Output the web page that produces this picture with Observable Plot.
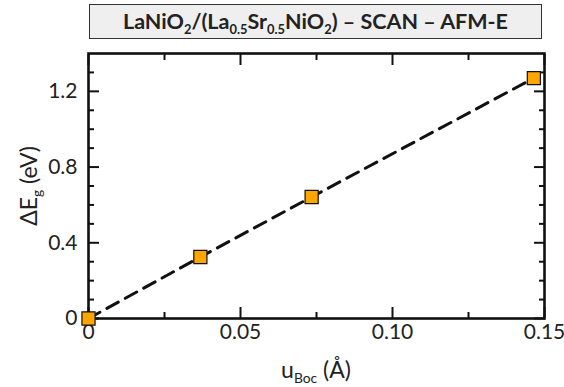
<!DOCTYPE html>
<html>
<head>
<meta charset="utf-8">
<script src="https://cdn.jsdelivr.net/npm/d3@7"></script>
<script src="https://cdn.jsdelivr.net/npm/@observablehq/plot@0.6"></script>
<style>
  body { margin: 0; background: #fff; }
  #wrap { position: relative; width: 564px; height: 387px; font-family: Lato, sans-serif; color: #222; }
  #wrap svg { position: absolute; left: 0; top: 0; }
  #title { position: absolute; left: 89px; top: 4px; width: 451px; height: 33px; border: 1.5px solid #333;
           background: #efefef; font-weight: bold; font-size: 21.5px; text-align: center; line-height: 32px; white-space: nowrap; }
  sub { font-size: 0.6em; vertical-align: -0.35em; line-height: 0; }
  #xlabel { position: absolute; left: 216px; width: 200px; top: 355px; text-align: center; font-size: 23px; }
  #ylabel { position: absolute; left: 28px; top: 186px; font-size: 23px; white-space: nowrap;
            transform: translate(-50%, -50%) rotate(-90deg); }
</style>
</head>
<body>
<div id="wrap"></div>
<script>
// data
const uBoc = [0, 0.0368, 0.0734, 0.1465];
const dEg  = [0, 0.325, 0.642, 1.27];
// tick values
const xMajor = [0, 0.05, 0.10, 0.15];
const xMinor = [0.025, 0.075, 0.125];
const yMajor = [0, 0.4, 0.8, 1.2];
const yMinor = [0.1, 0.2, 0.3, 0.5, 0.6, 0.7, 0.9, 1.0, 1.1, 1.3];
const titleHTML = "LaNiO<sub>2</sub>/(La<sub>0.5</sub>Sr<sub>0.5</sub>NiO<sub>2</sub>) – SCAN – AFM-E";
const xLabelHTML = "u<sub>Boc</sub> (Å)";
const yLabelHTML = "ΔE<sub>g</sub> (eV)";

const data = uBoc.map((u, i) => ({u, e: dEg[i]}));

const ink = "#111";
const tickAxes = [];
for (const anchor of ["bottom", "top"]) {
  tickAxes.push(Plot.axisX(xMajor, {anchor, tickSize: -11, text: null, stroke: ink, strokeWidth: 2}));
  tickAxes.push(Plot.axisX(xMinor, {anchor, tickSize: -6, text: null, stroke: ink, strokeWidth: 2}));
}
for (const anchor of ["left", "right"]) {
  tickAxes.push(Plot.axisY(yMajor, {anchor, tickSize: -11, text: null, stroke: ink, strokeWidth: 2}));
  tickAxes.push(Plot.axisY(yMinor, {anchor, tickSize: -6, text: null, stroke: ink, strokeWidth: 2}));
}

const chart = Plot.plot({
  width: 564, height: 387,
  marginLeft: 88, marginRight: 20, marginTop: 53, marginBottom: 69,
  style: {fontFamily: "Lato, sans-serif", fontSize: "21px", color: "#222", background: "transparent"},
  x: {domain: [0, 0.15], label: null},
  y: {domain: [0, 1.4], label: null},
  marks: [
    ...tickAxes,
    Plot.axisX(xMajor, {anchor: "bottom", tickSize: 0, tickPadding: 6, label: null, fontSize: 21,
      tickFormat: d => d === 0 ? "0" : d.toFixed(2)}),
    Plot.axisY(yMajor, {anchor: "left", tickSize: 0, tickPadding: 11, label: null, fontSize: 21,
      tickFormat: d => d === 0 ? "0" : d.toFixed(1)}),
    Plot.frame({stroke: ink, strokeWidth: 2.6}),
    Plot.line(data, {x: "u", y: "e", stroke: ink, strokeWidth: 3, strokeDasharray: "13,8"}),
    Plot.dot(data, {x: "u", y: "e", symbol: "square", r: 7.4, fill: "#ffa500", stroke: ink, strokeWidth: 1.2})
  ]
});

const wrap = document.getElementById("wrap");
wrap.appendChild(chart);
const t = document.createElement("div"); t.id = "title"; t.innerHTML = titleHTML; wrap.appendChild(t);
const xl = document.createElement("div"); xl.id = "xlabel"; xl.innerHTML = xLabelHTML; wrap.appendChild(xl);
const yl = document.createElement("div"); yl.id = "ylabel"; yl.innerHTML = yLabelHTML; wrap.appendChild(yl);
</script>
</body>
</html>
